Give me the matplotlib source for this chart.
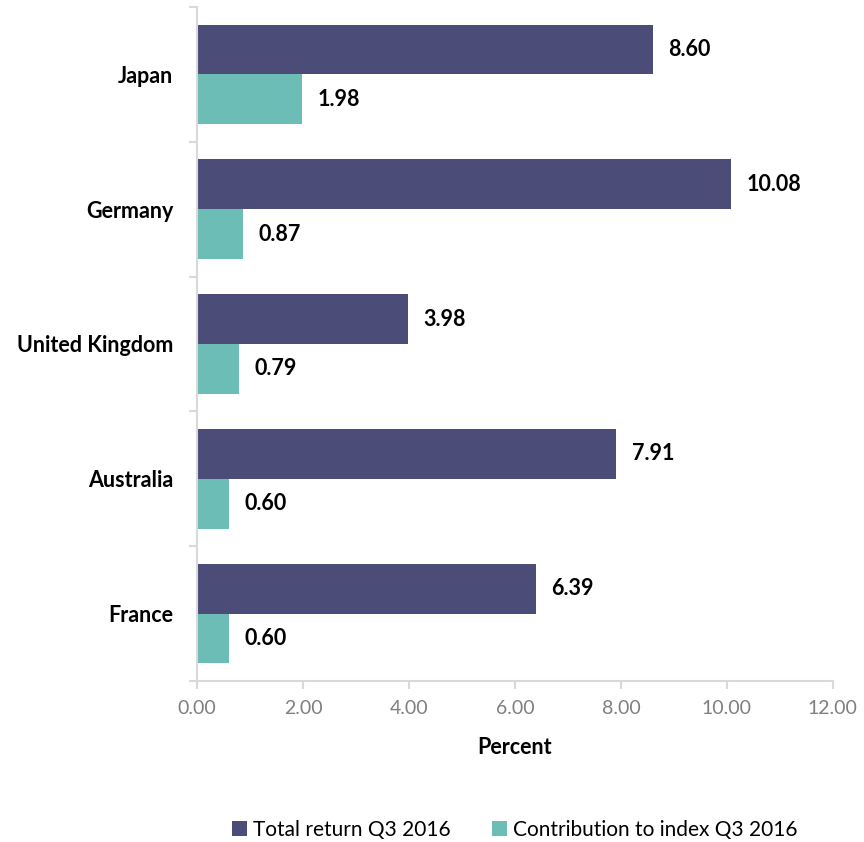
import matplotlib.pyplot as plt
from matplotlib.ticker import FixedLocator, FormatStrFormatter

plt.rcParams['font.family'] = ['Lato', 'DejaVu Sans']

countries = ['Japan', 'Germany', 'United Kingdom', 'Australia', 'France']
total_return = [8.60, 10.08, 3.98, 7.91, 6.39]
contribution = [1.98, 0.87, 0.79, 0.60, 0.60]

dark = '#4B4C77'
teal = '#6DBDB7'
grid_col = '#D9D9D9'

fig = plt.figure(figsize=(8.64, 8.42), dpi=100)
ax = fig.add_axes([0.228, 0.1912, 0.736, 0.8005])

pos = list(range(len(countries)))
h = 0.37
b1 = ax.barh([p - h / 2 for p in pos], total_return, height=h, color=dark,
             label='Total return Q3 2016')
b2 = ax.barh([p + h / 2 for p in pos], contribution, height=h, color=teal,
             label='Contribution to index Q3 2016')

for bars, vals in [(b1, total_return), (b2, contribution)]:
    for bar, v in zip(bars, vals):
        ax.text(bar.get_width() + 0.3, bar.get_y() + bar.get_height() / 2,
                '{:.2f}'.format(v), va='center', ha='left',
                fontsize=15.5, fontweight='bold', color='black')

ax.set_xlim(0, 12)
ax.set_ylim(4.5, -0.5)
ax.set_xticks([0, 2, 4, 6, 8, 10, 12])
ax.xaxis.set_major_formatter(FormatStrFormatter('%.2f'))
ax.set_yticks(pos)
ax.set_yticklabels(countries, fontsize=15.5, fontweight='bold')
ax.yaxis.set_minor_locator(FixedLocator([-0.5, 0.5, 1.5, 2.5, 3.5, 4.5]))
ax.tick_params(axis='y', which='major', length=0, pad=17)
ax.tick_params(axis='y', which='minor', length=6, color=grid_col, width=1.5)
ax.tick_params(axis='x', length=6, color=grid_col, width=1.5, labelsize=14,
               labelcolor='#7F7F7F', pad=8)

for s in ['top', 'right']:
    ax.spines[s].set_visible(False)
for s in ['left', 'bottom']:
    ax.spines[s].set_color(grid_col)
    ax.spines[s].set_linewidth(1.5)

fig.text(515 / 864, 1 - 748 / 842, 'Percent', ha='center', va='center',
         fontsize=15.5, fontweight='bold')

fig.legend(handles=[b1, b2], loc='center', bbox_to_anchor=(515 / 864, 1 - 830 / 842),
           ncol=2, frameon=False, fontsize=15, handlelength=0.7, handleheight=0.7,
           handletextpad=0.3, columnspacing=2.0)

fig.savefig('out.png', dpi=100)
